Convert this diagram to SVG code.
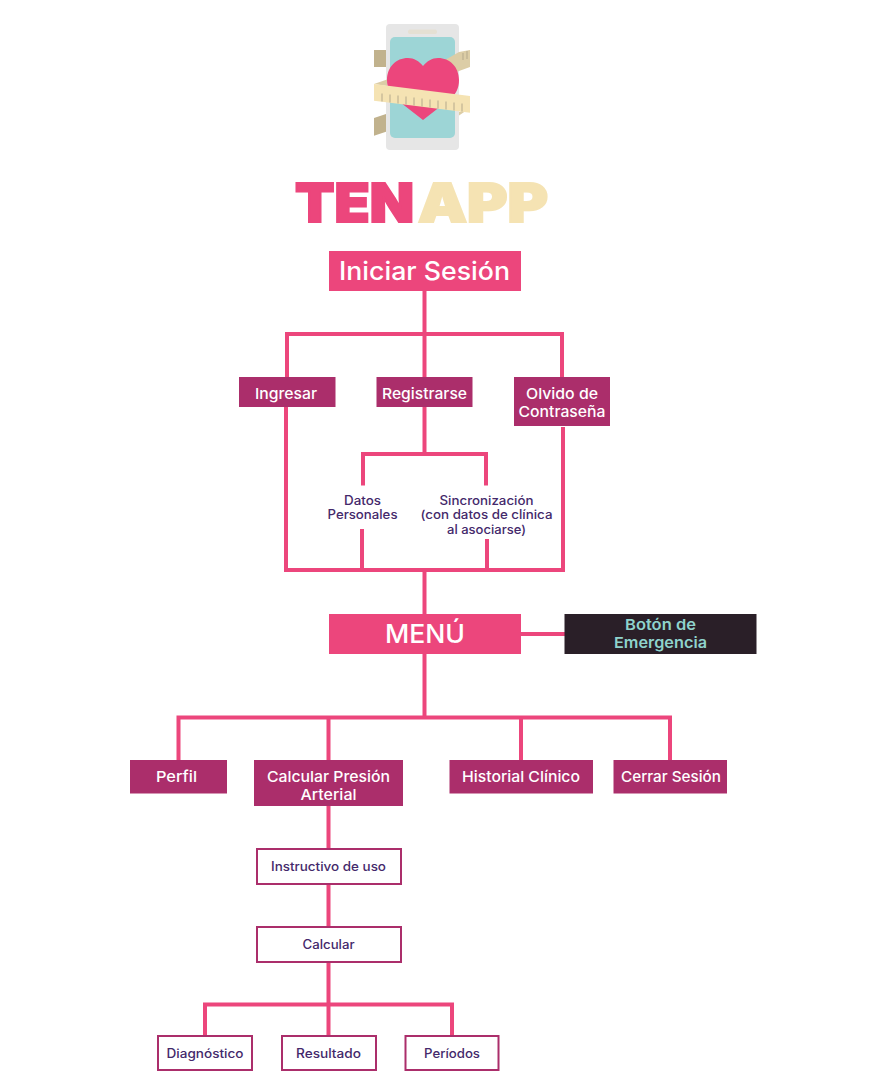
<svg xmlns="http://www.w3.org/2000/svg" width="886" height="1084" viewBox="0 0 886 1084">
<style>
text{font-family:Inter,"Open Sans","Liberation Sans",sans-serif;text-anchor:middle}
.line{fill:none;stroke:#ec467c;stroke-width:4}
.pri{fill:#ec467c}
.sec{fill:#ab2e6b}
.box{fill:#fff;stroke:#ab2e6b;stroke-width:2}
.w1{fill:#fff;font-size:25px;font-weight:500}
.w2{fill:#fff;font-size:15px;font-weight:500}
.p{fill:#44296b;font-size:12.5px;font-weight:500}
.t{fill:#8fd3cc;font-size:15px;font-weight:600}
.tick{stroke:#b5a98c;stroke-width:1;fill:none}
.logo{font-size:54px;font-weight:900;text-anchor:start;stroke-width:2;stroke-linejoin:miter}
</style>
<rect width="886" height="1084" fill="#fff"/>
<g id="logo">
<path d="M374 50H386V67H374ZM374 118L386 114V131.700L374 135.700Z" fill="#c1b28d"/>
<rect x="386" y="24" width="73" height="126" rx="4" fill="#e6e6e6"/>
<rect x="408" y="29.500" width="29" height="4.500" rx="2" fill="#e5e0d3"/>
<rect x="390" y="37" width="65" height="101" rx="5" fill="#9dd5d6"/>
<path d="M445 60L459 52L470 50V67L459 71L448 75ZM459 112L470 108L459 115.500Z" fill="#dccda6"/>
<path d="M463 53V60M467 51V59" class="tick"/>
<path d="M423 120L396 99C390 94 387 88 387 80C387 67 396 58 408 58C414 58 419 61 423 66C427 61 432 58 438 58C450 58 459 67 459 80C459 88 456 94 450 99Z" fill="#ec467c"/>
<path d="M374 84L387 79.500V86Z" fill="#dccda6"/>
<path d="M374 84L470 96V112.700L374 100.700Z" fill="#f5e3b3"/>
<path d="M382 93.500V101.500M390 94.500V102.500M398 95.500V103.500M406 96.500V104.500M414 97.500V105.500M422 98.500V106.500M430 99.500V107.500M438 100.500V108.500M446 101.500V109.500M454 102.500V110.500M462 103.500V111.500" class="tick"/>
<text x="295" y="222.300" class="logo" fill="#ec467c" stroke="#ec467c" textLength="119" lengthAdjust="spacingAndGlyphs">TEN</text>
<text x="418" y="222.300" class="logo" fill="#f5e3b3" stroke="#f5e3b3" textLength="130" lengthAdjust="spacingAndGlyphs">APP</text>
</g>
<g id="connectors">
<path class="line" d="M424.500 291V377M285 334H564M287 334V377M562 334V377"/>
<path class="line" d="M286 407V570M563 427V570M284 570H565M424.500 407V454M361 454H488M363 454V485.500M486 454V485.500M362 529V570M487 539V570M424.500 570V614"/>
<path class="line" d="M521 634H565M424.500 654V717.500M176.500 717.500H672M178.500 717.500V760M328.500 717.500V760M521 717.500V760M670 717.500V760"/>
<path class="line" d="M328.500 806V849M328.500 884V927M328.500 962V1036M203 1004.500H454M205 1004.500V1036M452 1004.500V1036"/>
</g>
<g id="iniciar"><rect class="pri" x="329" y="251" width="192" height="40"/><text class="w1" x="424.500" y="280" textLength="171" lengthAdjust="spacingAndGlyphs">Iniciar Sesión</text></g>
<g id="ingresar"><rect class="sec" x="239" y="377" width="96.500" height="30"/><text class="w2" x="286" y="399" textLength="62" lengthAdjust="spacingAndGlyphs">Ingresar</text></g>
<g id="registrarse"><rect class="sec" x="376.500" y="377" width="96" height="30"/><text class="w2" x="424.500" y="399" textLength="85" lengthAdjust="spacingAndGlyphs">Registrarse</text></g>
<g id="olvido"><rect class="sec" x="514" y="377" width="96" height="49"/><text class="w2" x="562" y="399" textLength="72" lengthAdjust="spacingAndGlyphs">Olvido de</text><text class="w2" x="562" y="416.500" textLength="87" lengthAdjust="spacingAndGlyphs">Contraseña</text></g>
<g id="datos"><text class="p" x="362.500" y="504.500" textLength="37" lengthAdjust="spacingAndGlyphs">Datos</text><text class="p" x="362.500" y="519" textLength="70" lengthAdjust="spacingAndGlyphs">Personales</text></g>
<g id="sincronizacion"><text class="p" x="486.500" y="504.500" textLength="94" lengthAdjust="spacingAndGlyphs">Sincronización</text><text class="p" x="486.500" y="519" textLength="132" lengthAdjust="spacingAndGlyphs">(con datos de clínica</text><text class="p" x="486.500" y="534" textLength="79" lengthAdjust="spacingAndGlyphs">al asociarse)</text></g>
<g id="menu"><rect class="pri" x="329" y="614" width="192" height="40"/><text class="w1" x="425" y="643" textLength="80" lengthAdjust="spacingAndGlyphs">MENÚ</text></g>
<g id="emergencia"><rect fill="#2a1f28" x="564.500" y="614" width="192" height="40"/><text class="t" x="660.500" y="630" textLength="71" lengthAdjust="spacingAndGlyphs">Botón de</text><text class="t" x="660.500" y="647.500" textLength="93" lengthAdjust="spacingAndGlyphs">Emergencia</text></g>
<g id="perfil"><rect class="sec" x="130" y="760" width="97" height="33.500"/><text class="w2" x="176.500" y="782" textLength="41" lengthAdjust="spacingAndGlyphs">Perfil</text></g>
<g id="calcular-presion"><rect class="sec" x="254" y="760" width="149" height="46"/><text class="w2" x="328.500" y="782" textLength="123" lengthAdjust="spacingAndGlyphs">Calcular Presión</text><text class="w2" x="328.500" y="800" textLength="56" lengthAdjust="spacingAndGlyphs">Arterial</text></g>
<g id="historial"><rect class="sec" x="449.500" y="760" width="143.500" height="33.500"/><text class="w2" x="521" y="782" textLength="118" lengthAdjust="spacingAndGlyphs">Historial Clínico</text></g>
<g id="cerrar"><rect class="sec" x="613.500" y="760" width="113.500" height="33.500"/><text class="w2" x="671" y="782" textLength="100" lengthAdjust="spacingAndGlyphs">Cerrar Sesión</text></g>
<g id="instructivo"><rect class="box" x="257" y="849" width="144" height="35"/><text class="p" x="328.500" y="870.500" textLength="115" lengthAdjust="spacingAndGlyphs">Instructivo de uso</text></g>
<g id="calcular"><rect class="box" x="257" y="927" width="144" height="35"/><text class="p" x="328.500" y="948.500" textLength="52" lengthAdjust="spacingAndGlyphs">Calcular</text></g>
<g id="diagnostico"><rect class="box" x="158" y="1036" width="94" height="34"/><text class="p" x="205" y="1058" textLength="77" lengthAdjust="spacingAndGlyphs">Diagnóstico</text></g>
<g id="resultado"><rect class="box" x="282" y="1036" width="94" height="34"/><text class="p" x="328.500" y="1058" textLength="65" lengthAdjust="spacingAndGlyphs">Resultado</text></g>
<g id="periodos"><rect class="box" x="405.500" y="1036" width="93" height="34"/><text class="p" x="452" y="1058" textLength="56" lengthAdjust="spacingAndGlyphs">Períodos</text></g>
</svg>
